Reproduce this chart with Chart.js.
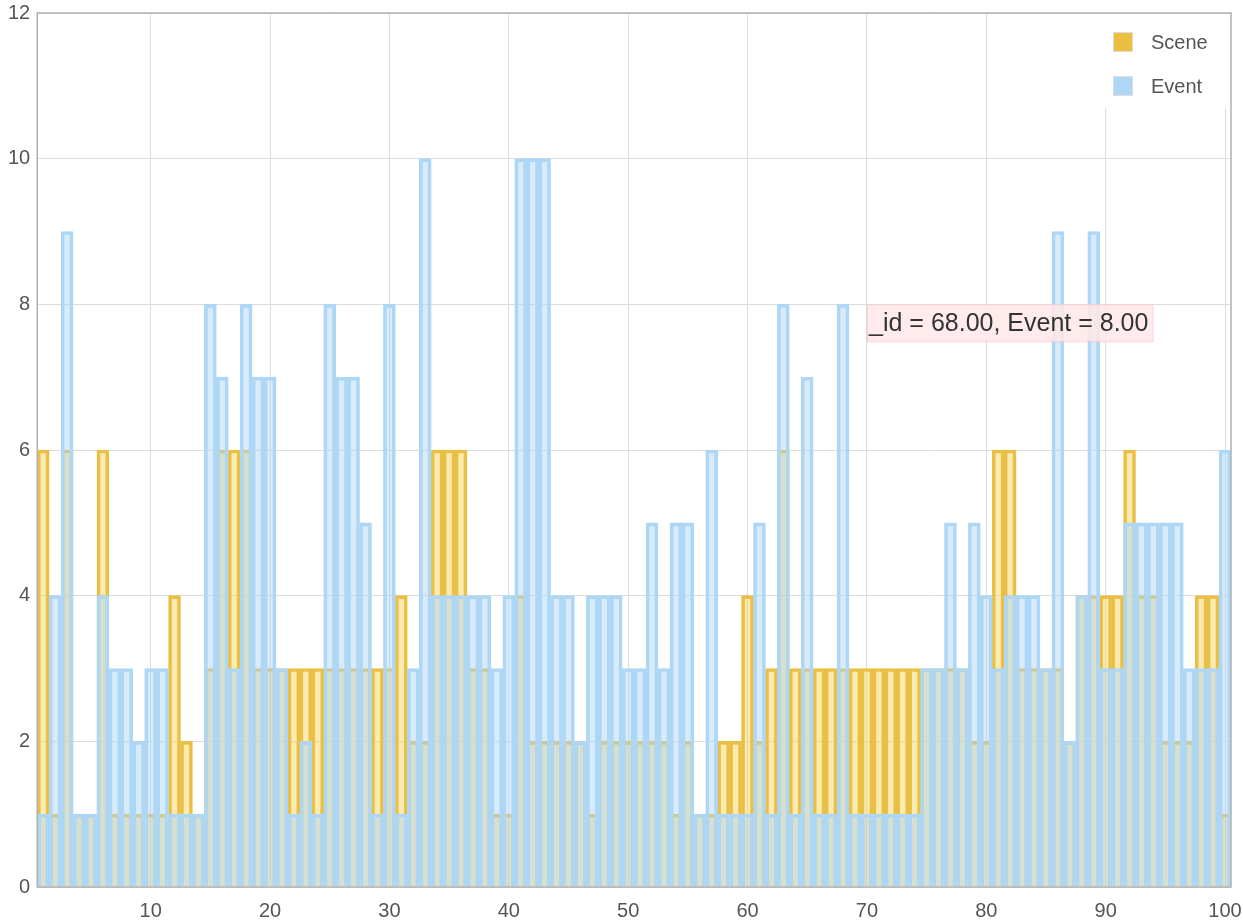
<!DOCTYPE html>
<html>
<head>
<meta charset="utf-8">
<script src="https://cdn.jsdelivr.net/npm/chart.js@4/dist/chart.umd.min.js"></script>
<style>
  html, body { margin: 0; padding: 0; background: #fff; }
  #wrap { width: 1243px; height: 924px; }
</style>
</head>
<body>
<div id="wrap"><canvas id="chart"></canvas></div>
<script>
// ids 1..100
const ids = [];
for (let i = 1; i <= 100; i++) ids.push(i);

const sceneValues = [
  6, 1, 6, 1, 1, 6, 1, 1, 1, 1,
  1, 4, 2, 1, 3, 6, 6, 6, 3, 3,
  3, 3, 3, 3, 3, 3, 3, 3, 3, 3,
  4, 2, 2, 6, 6, 6, 3, 3, 1, 1,
  4, 2, 2, 2, 2, 2, 1, 2, 2, 2,
  2, 2, 2, 1, 2, 1, 1, 2, 2, 4,
  2, 3, 6, 3, 3, 3, 3, 3, 3, 3,
  3, 3, 3, 3, 3, 3, 3, 3, 2, 2,
  6, 6, 3, 3, 3, 3, 2, 4, 4, 4,
  4, 6, 4, 4, 2, 2, 2, 4, 4, 1
];

const eventValues = [
  1, 4, 9, 1, 1, 4, 3, 3, 2, 3,
  3, 1, 1, 1, 8, 7, 3, 8, 7, 7,
  3, 1, 2, 1, 8, 7, 7, 5, 1, 8,
  1, 3, 10, 4, 4, 4, 4, 4, 3, 4,
  10, 10, 10, 4, 4, 2, 4, 4, 4, 3,
  3, 5, 3, 5, 5, 1, 6, 1, 1, 1,
  5, 1, 8, 1, 7, 1, 1, 8, 1, 1,
  1, 1, 1, 1, 3, 3, 5, 3, 5, 4,
  3, 4, 4, 4, 3, 9, 2, 4, 9, 3,
  3, 5, 5, 5, 5, 5, 3, 3, 3, 6
];

const yTicks = [0, 2, 4, 6, 8, 10, 12];

// hovered point shown in the picture
const hoverIndex = 67;
const hoverText = "_id = " + ids[hoverIndex].toFixed(2) + ", Event = " + eventValues[hoverIndex].toFixed(2);

const FONT = "'Liberation Sans', Arial, sans-serif";

const legendItems = [
  { label: "Scene", fill: "#EBC040" },
  { label: "Event", fill: "#AED6F5" }
];

// box around the plot area
const framePlugin = {
  id: "frame",
  afterDraw(chart) {
    const a = chart.chartArea, ctx = chart.ctx;
    ctx.save();
    ctx.strokeStyle = "#b0b0b0";
    ctx.lineWidth = 1.5;
    ctx.strokeRect(a.left, a.top, a.right - a.left, a.bottom - a.top);
    ctx.restore();
  }
};

const hoverLabel = {
  id: "hoverLabel",
  afterDraw(chart) {
    const ctx = chart.ctx;
    const x = chart.scales.x.getPixelForValue(hoverIndex) + 24;
    const y = chart.scales.y.getPixelForValue(eventValues[hoverIndex]);
    ctx.save();
    ctx.font = "25px " + FONT;
    const w = ctx.measureText(hoverText).width + 6;
    ctx.fillStyle = "rgba(255,232,232,0.85)";
    ctx.fillRect(x, y, w, 37);
    ctx.strokeStyle = "rgba(245,200,200,0.8)";
    ctx.lineWidth = 1;
    ctx.strokeRect(x + 0.5, y + 0.5, w, 37);
    ctx.fillStyle = "#333";
    ctx.textBaseline = "middle";
    ctx.fillText(hoverText, x + 2, y + 20);
    ctx.restore();
  }
};

const legendPlugin = {
  id: "cornerLegend",
  afterDraw(chart) {
    const a = chart.chartArea, ctx = chart.ctx;
    ctx.save();
    ctx.fillStyle = "#fff";
    ctx.fillRect(a.right - 131, a.top + 1, 130, 94);
    ctx.font = "20px " + FONT;
    ctx.textBaseline = "middle";
    legendItems.forEach((it, i) => {
      const cy = a.top + 29 + i * 44;
      ctx.fillStyle = it.fill;
      ctx.fillRect(a.right - 117, cy - 9, 18, 18);
      ctx.strokeStyle = "#ddd";
      ctx.lineWidth = 1;
      ctx.strokeRect(a.right - 117.5, cy - 9.5, 19, 19);
      ctx.fillStyle = "#555";
      ctx.fillText(it.label, a.right - 80, cy + 1);
    });
    ctx.restore();
  }
};

const chart = new Chart(document.getElementById("chart"), {
  type: "bar",
  data: {
    labels: ids,
    datasets: [
      {
        label: "Scene",
        data: sceneValues,
        backgroundColor: "rgba(246,204,70,0.42)",
        borderColor: "#E9BF45",
        borderWidth: 3,
        order: 2
      },
      {
        label: "Event",
        data: eventValues,
        backgroundColor: "rgba(173,214,245,0.48)",
        borderColor: "#AED6F5",
        borderWidth: 3,
        order: 1
      }
    ]
  },
  options: {
    responsive: true,
    maintainAspectRatio: false,
    animation: false,
    grouped: false,
    barPercentage: 1,
    categoryPercentage: 1,
    layout: { padding: { left: 1, right: 0, top: 0, bottom: -11 } },
    plugins: {
      legend: { display: false },
      tooltip: { enabled: false }
    },
    scales: {
      x: {
        afterFit: (axis) => { axis.paddingRight = 12; },
        grid: { offset: false, color: "#dcdcdc", drawTicks: false },
        border: { display: false },
        ticks: {
          autoSkip: false,
          maxRotation: 0,
          padding: 12,
          color: "#555",
          font: { family: FONT, size: 20 },
          callback: function (v, i) {
            const id = ids[i];
            return id % 10 === 0 ? String(id) : null;
          }
        }
      },
      y: {
        min: 0,
        max: 12,
        afterBuildTicks: (axis) => { axis.ticks = yTicks.map(v => ({ value: v })); },
        afterFit: (axis) => { axis.paddingTop = 13; },
        grid: { color: "#dcdcdc", drawTicks: false },
        border: { display: false },
        ticks: {
          padding: 7,
          color: "#555",
          font: { family: FONT, size: 20 }
        }
      }
    }
  },
  plugins: [framePlugin, hoverLabel, legendPlugin]
});
</script>
</body>
</html>
